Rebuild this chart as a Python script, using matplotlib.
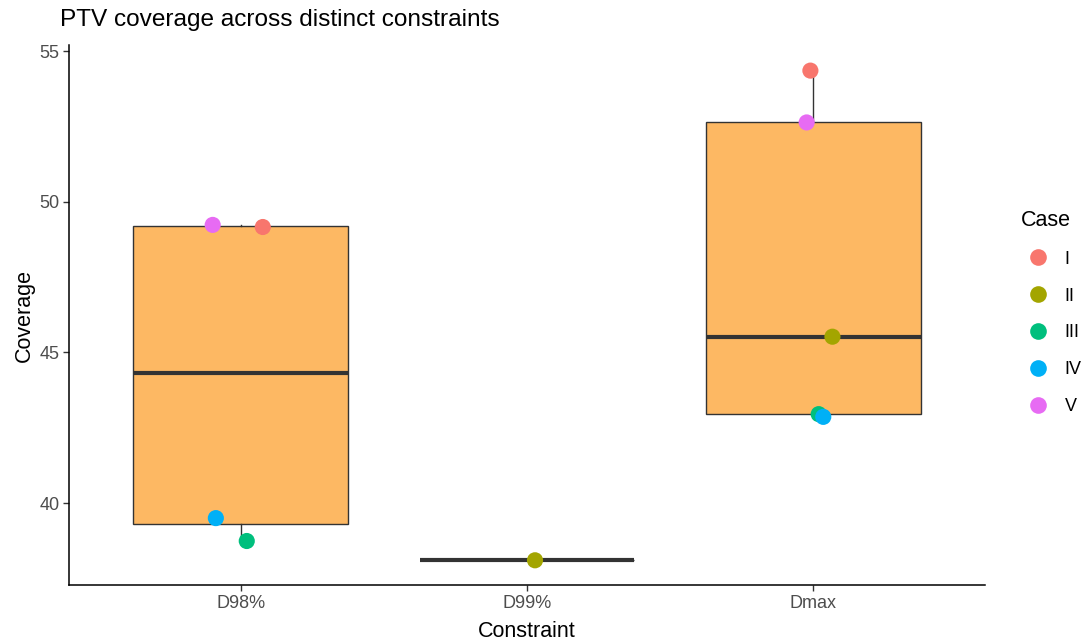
import matplotlib
matplotlib.use("Agg")
import matplotlib.pyplot as plt
from matplotlib.lines import Line2D

plt.rcParams['font.family'] = ['Liberation Sans', 'DejaVu Sans']

# Constraint categories and the cases measured under each
constraints = ["D98%", "D99%", "Dmax"]
cases = ["I", "II", "III", "IV", "V"]
case_colors = ["#F8766D", "#A3A500", "#00BF7D", "#00B0F6", "#E76BF3"]

# Coverage values per constraint, keyed by case
d98_cases = ["I", "III", "IV", "V"]
d98_values = [49.16, 38.74, 39.50, 49.23]
d99_cases = ["II"]
d99_values = [38.10]
dmax_cases = ["I", "II", "III", "IV", "V"]
dmax_values = [54.35, 45.52, 42.95, 42.86, 52.63]

# Horizontal jitter applied to each point
d98_jitter = [0.077, 0.021, -0.087, -0.098]
d99_jitter = [0.028]
dmax_jitter = [-0.010, 0.067, 0.019, 0.035, -0.023]

groups = [
    (d98_cases, d98_values, d98_jitter),
    (d99_cases, d99_values, d99_jitter),
    (dmax_cases, dmax_values, dmax_jitter),
]

fig = plt.figure(figsize=(10.91, 6.43), dpi=100)
ax = fig.add_axes([69 / 1091, 1 - 585 / 643, (985 - 69) / 1091, (585 - 45) / 643])

positions = list(range(1, len(constraints) + 1))
ax.boxplot(
    [g[1] for g in groups],
    positions=positions,
    widths=0.75,
    patch_artist=True,
    whis=1.5,
    showfliers=False,
    showcaps=False,
    boxprops=dict(facecolor="#FDB863", edgecolor="#333333", linewidth=1.0),
    whiskerprops=dict(color="#333333", linewidth=1.0),
    medianprops=dict(color="#333333", linewidth=3.0),
    zorder=1,
)

color_of = dict(zip(cases, case_colors))
for pos, (cs, vals, jit) in zip(positions, groups):
    for c, v, j in zip(cs, vals, jit):
        ax.scatter(pos + j, v, s=135, color=color_of[c], edgecolors="none", zorder=3)

ax.set_xlim(0.4, 3.6)
ax.set_ylim(37.28, 55.2)
ax.set_xticks(positions)
ax.set_xticklabels(constraints)
ax.set_yticks([40, 45, 50, 55])

for side in ["top", "right"]:
    ax.spines[side].set_visible(False)
for side in ["left", "bottom"]:
    ax.spines[side].set_color("black")
    ax.spines[side].set_linewidth(1.1)
ax.tick_params(axis="both", colors="#333333", labelcolor="#4D4D4D",
               labelsize=13, length=4, width=1.0, pad=3)

ax.set_xlabel("Constraint", fontsize=15.5, color="black", labelpad=7)
ax.set_ylabel("Coverage", fontsize=15.5, color="black", labelpad=3)
fig.text(60 / 1091, 1 - 20 / 643, "PTV coverage across distinct constraints",
         fontsize=17.6, ha="left", va="center", color="black")

handles = [Line2D([0], [0], marker="o", linestyle="none", markersize=12,
                  markerfacecolor=col, markeredgecolor="none") for col in case_colors]
leg = fig.legend(handles, cases, title="Case", loc="upper left",
                 bbox_to_anchor=(1014 / 1091, 1 - 203 / 643), frameon=False,
                 fontsize=13, title_fontsize=15.5, labelspacing=1.1,
                 handlelength=1.9, handletextpad=0.5, borderaxespad=0)
leg._legend_box.align = "left"
leg._legend_box.sep = 14

fig.savefig("out.png", dpi=100)
